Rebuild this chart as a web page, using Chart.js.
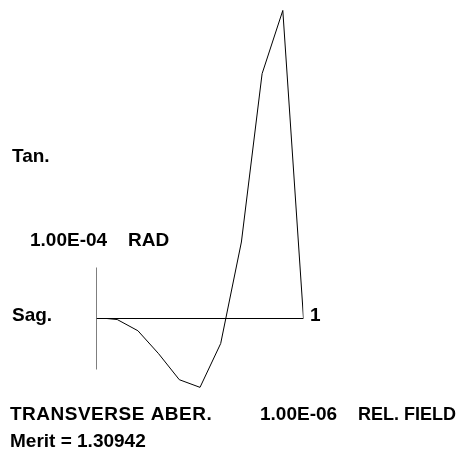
<!DOCTYPE html>
<html>
<head>
<meta charset="utf-8">
<title>Transverse aberration</title>
<script src="https://cdn.jsdelivr.net/npm/chart.js@4/dist/chart.umd.min.js"></script>
<style>
  html, body { margin:0; padding:0; background:#fff; }
  #wrap { width:468px; height:458px; }
</style>
</head>
<body>
<div id="wrap"><canvas id="chart" width="468" height="458"></canvas></div>
<script>
// relative field positions and sagittal transverse aberration (units of 1.00E-04 rad)
const FIELDS = [0.05, 0.1, 0.2, 0.3, 0.4, 0.5, 0.6, 0.7, 0.8, 0.9, 1.0];
const SAG    = [0.0, -0.02, -0.24, -0.69, -1.2, -1.35, -0.49, 1.5, 4.8, 6.04, 0.0];

// axis frame: horizontal field axis and vertical scale bar (+-1 unit)
const AXIS_X = [0, 1];
const BAR_Y  = [-1, 1];

// text around the plot (w = width to fit, sp = letter spacing)
const LABELS = [
  {t:'Tan.', x:12, y:157},
  {t:'1.00E-04', x:30, y:241},
  {t:'RAD', x:128, y:241},
  {t:'Sag.', x:12, y:316},
  {t:'1', x:310, y:316},
  {t:'TRANSVERSE ABER.', x:10, y:415, sp:'0.5px'},
  {t:'1.00E-06', x:260, y:415},
  {t:'REL. FIELD', x:358, y:415, w:98},
  {t:'Merit = 1.30942', x:10, y:442}
];

const sagPts = FIELDS.map((f,i)=>({x:f, y:SAG[i]}));
const axisPts = AXIS_X.map(x=>({x:x, y:0}));
const barPts = BAR_Y.map(y=>({x:0, y:y}));

const PX_PER_UNIT = 51; // pixel height of one unit on the y scale
const textPlugin = {
  id:'texts',
  beforeDraw(chart){
    const c = chart.ctx;
    c.save(); c.fillStyle = '#fff'; c.fillRect(0,0,chart.width,chart.height); c.restore();
  },
  afterDraw(chart){
    const c = chart.ctx;
    c.save();
    c.fillStyle = '#000';
    c.font = 'bold 19px "Liberation Sans", Arial, sans-serif';
    c.textBaseline = 'middle';
    LABELS.forEach(l=>{
      c.letterSpacing = l.sp || '0px';
      if(l.w) c.fillText(l.t, l.x, l.y, l.w); else c.fillText(l.t, l.x, l.y);
    });
    c.restore();
  }
};

const line = (data, color) => ({
  data: data, borderColor: color, borderWidth: 1, pointRadius: 0,
  fill: false, tension: 0
});

new Chart(document.getElementById('chart'), {
  type: 'line',
  data: { datasets: [ line(axisPts, '#000'), line(barPts, '#000'), line(sagPts, '#000') ] },
  options: {
    responsive: false, animation: false,
    layout: { padding: { left: 96.5, right: 164.5, top: 0, bottom: 0 } },
    plugins: { legend: { display:false }, tooltip: { enabled:false } },
    scales: {
      x: { type:'linear', min:0, max:1, display:false },
      y: { type:'linear', min:-139.5/PX_PER_UNIT, max:318.5/PX_PER_UNIT, display:false }
    }
  },
  plugins: [textPlugin]
});
</script>
</body>
</html>
